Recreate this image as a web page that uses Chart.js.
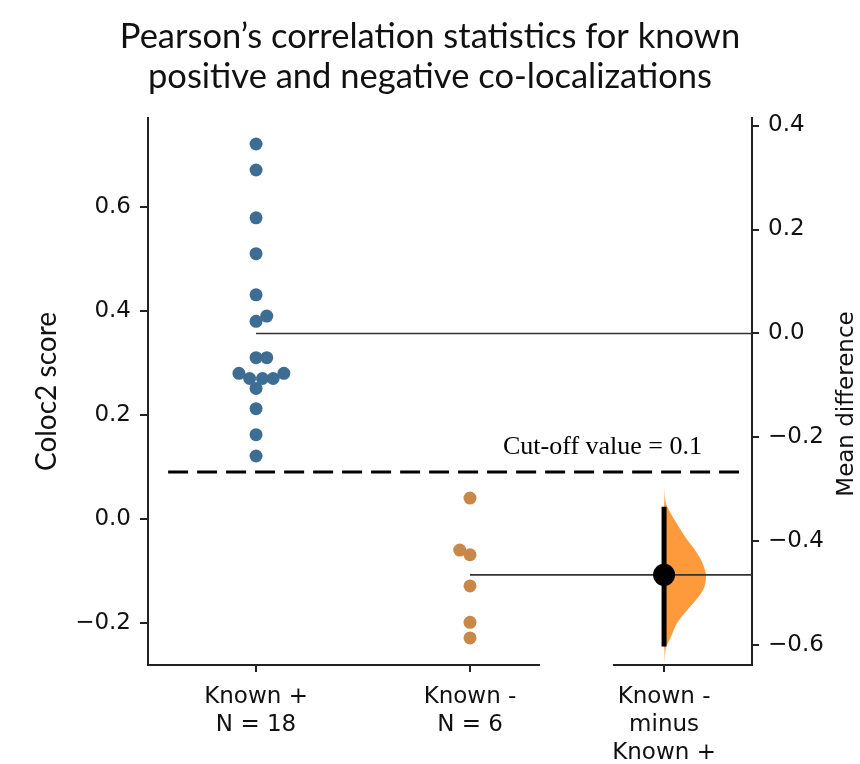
<!DOCTYPE html>
<html>
<head>
<meta charset="utf-8">
<script src="https://cdn.jsdelivr.net/npm/chart.js@4.4.1/dist/chart.umd.min.js"></script>
<style>
  html, body { margin: 0; padding: 0; background: #fff; }
  #wrap { width: 860px; height: 764px; }
</style>
</head>
<body>
<div id="wrap"><canvas id="myChart"></canvas></div>
<script>
// categories and their x positions (the difference axis sits a bit closer)
const categories = [['Known +', 'N = 18'], ['Known -', 'N = 6'], ['Known -', 'minus', 'Known +']];
const categoryPos = [0, 1, 1.907];

const knownPos = [0.721, 0.671, 0.579, 0.510, 0.431, 0.390, 0.380, 0.310, 0.310,
  0.280, 0.270, 0.270, 0.270, 0.280, 0.251, 0.212, 0.162, 0.121];
const knownPosOffset = [0, 0, 0, 0, 0, 0.05, 0, 0, 0.05,
  -0.08, -0.03, 0.03, 0.08, 0.13, 0, 0, 0, 0];
const knownNeg = [0.040, -0.060, -0.069, -0.129, -0.199, -0.229];
const knownNegOffset = [0, -0.048, 0, 0, 0, 0];

// bootstrap distribution of the mean difference (value, relative density)
const violinValues = [-0.289, -0.328, -0.346, -0.365, -0.392, -0.417, -0.437, -0.456, -0.469,
  -0.488, -0.507, -0.533, -0.558, -0.584, -0.603, -0.629, -0.637];
const violinDensity = [0, 0.05, 0.16, 0.30, 0.51, 0.74, 0.89, 0.98, 1.0,
  0.96, 0.82, 0.54, 0.30, 0.16, 0.05, 0.02, 0];
const ciBounds = [-0.333, -0.602];

const cutoffValue = 0.09;
const cutoffSpan = [-0.411, 2.285];
const cutoffLabel = 'Cut-off value = 0.1';

const leftTicks = [-0.2, 0, 0.2, 0.4, 0.6];
const rightTicks = [-0.6, -0.4, -0.2, 0, 0.2, 0.4];
const yRange = [-0.281, 0.771];
const xRange = [-0.505, 2.318];

const titleLines = ['Pearson\u2019s correlation statistics for known', 'positive and negative co-localizations'];

const mean = a => a.reduce((s, v) => s + v, 0) / a.length;
const meanPos = mean(knownPos);
const meanNeg = mean(knownNeg);
const meanDiff = meanNeg - meanPos;
const diffX = categoryPos[2];
const violinWidth = 0.196;

const fmt = v => (v < -1e-9 ? '\u2212' : '') + Math.abs(v).toFixed(1);

const violinFill = (context) => {
  const chart = context.chart;
  if (!chart.chartArea) return '#ff9a3c';
  const s = chart.scales.y2;
  const y0 = s.getPixelForValue(violinValues[0]);
  const y1 = s.getPixelForValue(violinValues[violinValues.length - 1]);
  const g = chart.ctx.createLinearGradient(0, y0, 0, y1);
  g.addColorStop(0, 'rgba(255,154,60,0)');
  g.addColorStop(0.13, 'rgba(255,154,60,1)');
  g.addColorStop(0.88, 'rgba(255,154,60,1)');
  g.addColorStop(1, 'rgba(255,154,60,0)');
  return g;
};

const extras = {
  id: 'extras',
  afterDraw(chart) {
    const { ctx, chartArea, scales } = chart;
    ctx.save();
    // split bottom spine
    ctx.strokeStyle = '#222';
    ctx.lineWidth = 2;
    ctx.beginPath();
    ctx.moveTo(chartArea.left - 1, chartArea.bottom);
    ctx.lineTo(scales.x.getPixelForValue(1.327), chartArea.bottom);
    ctx.moveTo(scales.x.getPixelForValue(1.668), chartArea.bottom);
    ctx.lineTo(chartArea.right + 1, chartArea.bottom);
    ctx.stroke();
    // cut-off label
    ctx.fillStyle = '#000';
    ctx.font = '26px "Liberation Serif"';
    ctx.textBaseline = 'alphabetic';
    ctx.textAlign = 'left';
    ctx.fillText(cutoffLabel, 503, scales.y.getPixelForValue(cutoffValue) - 18);
    // right axis title
    ctx.translate(847, 404);
    ctx.rotate(-Math.PI / 2);
    ctx.font = '23px "DejaVu Sans"';
    ctx.textAlign = 'center';
    ctx.textBaseline = 'middle';
    ctx.fillStyle = '#111';
    ctx.fillText('Mean difference', 0, 0);
    ctx.restore();
  }
};

const pts = (vals, offs, x) => vals.map((v, i) => ({ x: x + offs[i], y: v }));

new Chart(document.getElementById('myChart'), {
  type: 'line',
  data: {
    datasets: [
      {
        data: pts(knownPos, knownPosOffset, categoryPos[0]),
        showLine: false, pointRadius: 6.5, pointHoverRadius: 6.5, pointBorderWidth: 0,
        pointBackgroundColor: '#3e6d94', yAxisID: 'y', order: 0
      },
      {
        data: pts(knownNeg, knownNegOffset, categoryPos[1]),
        showLine: false, pointRadius: 6.5, pointHoverRadius: 6.5, pointBorderWidth: 0,
        pointBackgroundColor: '#c9874a', yAxisID: 'y', order: 0
      },
      {
        data: [{ x: diffX, y: meanDiff }],
        showLine: false, pointRadius: 11, pointHoverRadius: 11, pointBorderWidth: 0,
        pointBackgroundColor: '#000', yAxisID: 'y2', order: 0
      },
      {
        data: ciBounds.map(v => ({ x: diffX, y: v })),
        borderColor: '#000', borderWidth: 5, pointRadius: 0, yAxisID: 'y2', order: 1
      },
      {
        data: [{ x: categoryPos[0], y: meanPos }, { x: xRange[1], y: meanPos }],
        borderColor: '#333', borderWidth: 1.6, pointRadius: 0, yAxisID: 'y', order: 2
      },
      {
        data: [{ x: categoryPos[1], y: meanNeg }, { x: xRange[1], y: meanNeg }],
        borderColor: '#333', borderWidth: 1.6, pointRadius: 0, yAxisID: 'y', order: 2
      },
      {
        data: cutoffSpan.map(x => ({ x, y: cutoffValue })),
        borderColor: '#000', borderWidth: 3, borderDash: [20, 9], pointRadius: 0,
        yAxisID: 'y', order: 2
      },
      {
        data: violinValues.map((v, i) => ({ x: diffX + violinDensity[i] * violinWidth, y: v })),
        borderWidth: 0, borderColor: 'rgba(0,0,0,0)', backgroundColor: violinFill,
        fill: 'shape', tension: 0.3, pointRadius: 0, yAxisID: 'y2', order: 3
      }
    ]
  },
  options: {
    responsive: true,
    maintainAspectRatio: false,
    animation: false,
    layout: { padding: 0 },
    plugins: {
      legend: { display: false },
      tooltip: { enabled: false },
      title: {
        display: true,
        text: titleLines,
        color: '#111',
        font: { family: 'Lato', size: 34.5, weight: 'normal', lineHeight: 40 / 34.5 },
        padding: { top: 17, bottom: 21 }
      }
    },
    scales: {
      x: {
        type: 'linear',
        min: xRange[0],
        max: xRange[1],
        border: { display: false },
        grid: { drawOnChartArea: false, drawTicks: true, tickLength: 7, color: '#222', lineWidth: 2 },
        afterBuildTicks: s => { s.ticks = categoryPos.map(v => ({ value: v })); },
        ticks: {
          callback: (v, i) => categories[i],
          color: '#111',
          font: { family: 'DejaVu Sans', size: 23, lineHeight: 28 / 23 },
          padding: 11,
          maxRotation: 0,
          autoSkip: false
        },
        afterFit: s => { s.height = 99; }
      },
      y: {
        type: 'linear',
        position: 'left',
        min: yRange[0],
        max: yRange[1],
        border: { display: true, color: '#222', width: 2 },
        grid: { drawOnChartArea: false, tickLength: 8, color: '#222', lineWidth: 2 },
        afterBuildTicks: s => { s.ticks = leftTicks.map(v => ({ value: v })); },
        ticks: {
          callback: fmt,
          color: '#111',
          font: { family: 'DejaVu Sans', size: 23 },
          padding: 9
        },
        title: {
          display: true,
          text: 'Coloc2 score',
          color: '#111',
          font: { family: 'Lato', size: 28 },
          padding: { top: 30, bottom: 0 }
        },
        afterFit: s => { s.width = 148; }
      },
      y2: {
        type: 'linear',
        position: 'right',
        min: yRange[0] - meanPos,
        max: yRange[1] - meanPos,
        border: { display: true, color: '#222', width: 2 },
        grid: { drawOnChartArea: false, tickLength: 7, color: '#222', lineWidth: 2 },
        afterBuildTicks: s => { s.ticks = rightTicks.map(v => ({ value: v })); },
        ticks: {
          callback: fmt,
          color: '#111',
          font: { family: 'DejaVu Sans', size: 23 },
          padding: 9
        },
        afterFit: s => { s.width = 108; }
      }
    }
  },
  plugins: [extras]
});
</script>
</body>
</html>
